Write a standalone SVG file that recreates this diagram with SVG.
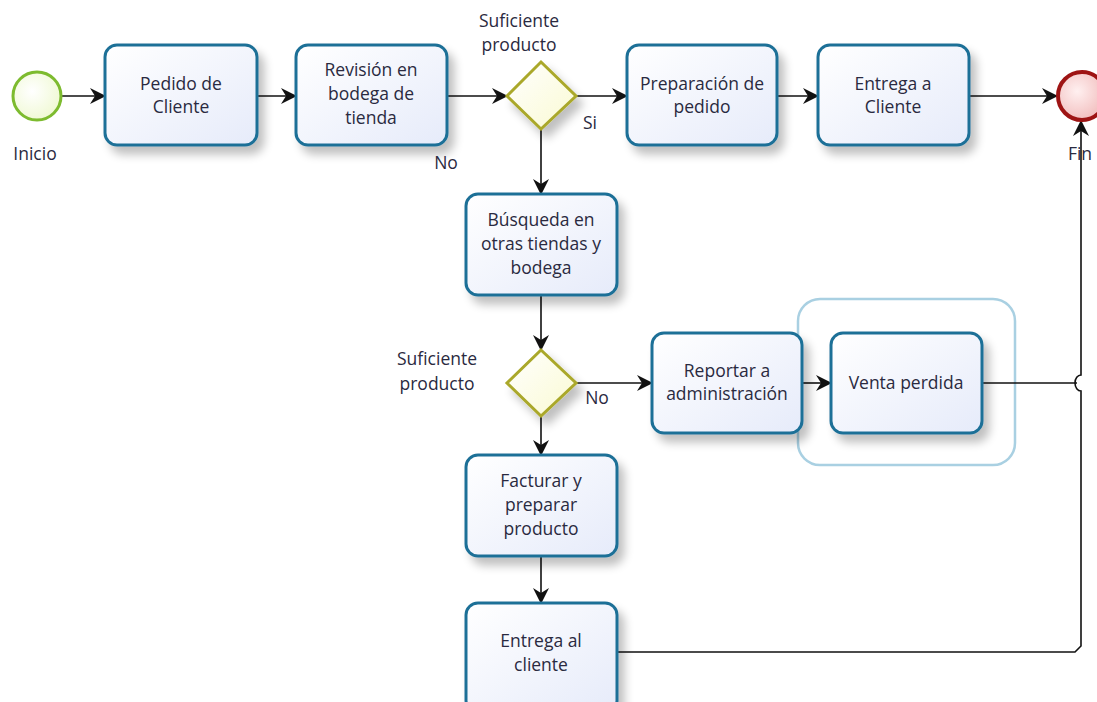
<svg xmlns="http://www.w3.org/2000/svg" width="1097" height="702" viewBox="0 0 1097 702">
<defs>
<linearGradient id="taskFill" x1="0" y1="0" x2="1" y2="1">
<stop offset="0" stop-color="#ffffff"/><stop offset="1" stop-color="#e6ebfa"/>
</linearGradient>
<linearGradient id="gwFill" x1="0" y1="0" x2="1" y2="1">
<stop offset="0" stop-color="#ffffff"/><stop offset="1" stop-color="#fafad2"/>
</linearGradient>
<radialGradient id="startFill" cx="0.4" cy="0.4" r="0.7">
<stop offset="0" stop-color="#ffffff"/><stop offset="1" stop-color="#eef8cf"/>
</radialGradient>
<radialGradient id="endFill" cx="0.4" cy="0.4" r="0.7">
<stop offset="0" stop-color="#fff0f0"/><stop offset="1" stop-color="#f0b8b8"/>
</radialGradient>
<filter id="shadow" x="-20%" y="-20%" width="150%" height="150%">
<feGaussianBlur in="SourceAlpha" stdDeviation="5"/>
<feOffset dx="6" dy="8" result="b"/>
<feComponentTransfer><feFuncA type="linear" slope="0.25"/></feComponentTransfer>
<feMerge><feMergeNode/><feMergeNode in="SourceGraphic"/></feMerge>
</filter>
<marker id="arrow" viewBox="0 0 16 16" refX="15" refY="8" markerWidth="16" markerHeight="16" markerUnits="userSpaceOnUse" orient="auto">
<path d="M0,0 L16,8 L0,16 L5,8 Z" fill="#111"/>
</marker>
</defs>
<style>
.task{fill:url(#taskFill);stroke:#1f6f97;stroke-width:3;filter:url(#shadow)}
.gw{fill:url(#gwFill);stroke:#aaa82a;stroke-width:3;filter:url(#shadow)}
.lbl{font-family:"Open Sans","Noto Sans",sans-serif;font-size:17.5px;fill:#2a2a40;text-anchor:middle}
.edge{fill:none;stroke:#111;stroke-width:1.6}
.edgeA{fill:none;stroke:#111;stroke-width:1.6;marker-end:url(#arrow)}
</style>
<rect width="1097" height="702" fill="#ffffff"/>

<g id="group-lost">
<rect x="798" y="299" width="217" height="166" rx="22" fill="none" stroke="#a9d0e2" stroke-width="2.5"/>
</g>

<g id="connectors">
<line class="edgeA" x1="62" y1="96" x2="105" y2="96"/>
<line class="edgeA" x1="257" y1="96" x2="296" y2="96"/>
<line class="edgeA" x1="447" y1="96" x2="507" y2="96"/>
<line class="edgeA" x1="576" y1="96" x2="627" y2="96"/>
<line class="edgeA" x1="777" y1="96" x2="818" y2="96"/>
<line class="edgeA" x1="969" y1="96" x2="1057" y2="96"/>
<line class="edgeA" x1="541" y1="129" x2="541" y2="194"/>
<line class="edgeA" x1="541" y1="295" x2="541" y2="350"/>
<line class="edgeA" x1="576" y1="383" x2="652" y2="383"/>
<line class="edgeA" x1="802" y1="383" x2="831" y2="383"/>
<line class="edgeA" x1="541" y1="416" x2="541" y2="455"/>
<line class="edgeA" x1="541" y1="556" x2="541" y2="603"/>
<line class="edge" x1="982" y1="383" x2="1077" y2="383"/>
<path class="edgeA" d="M617,652 L1075,652 L1081,646 L1081,391 A6,8 0 0 1 1081,375 L1081,121"/>
</g>

<g id="start">
<circle cx="37" cy="96" r="24" fill="url(#startFill)" stroke="#7dbb2f" stroke-width="3"/>
<text class="lbl" x="35" y="160">Inicio</text>
</g>

<g id="end">
<circle cx="1082" cy="96" r="24" fill="url(#endFill)" stroke="#9e1414" stroke-width="4"/>
<text class="lbl" x="1080" y="160">Fin</text>
</g>

<g id="pedido">
<rect class="task" x="105" y="45" width="152" height="100" rx="12"/>
<text class="lbl" x="181" y="90">Pedido de</text>
<text class="lbl" x="181" y="113">Cliente</text>
</g>

<g id="revision">
<rect class="task" x="296" y="45" width="151" height="100" rx="12"/>
<text class="lbl" x="371" y="76">Revisión en</text>
<text class="lbl" x="371" y="100">bodega de</text>
<text class="lbl" x="371" y="124">tienda</text>
</g>

<g id="gateway1">
<polygon class="gw" points="541,62 576,96 541,129 507,96"/>
<text class="lbl" x="519" y="27">Suficiente</text>
<text class="lbl" x="519" y="51">producto</text>
<text class="lbl" x="590" y="129">Si</text>
<text class="lbl" x="446" y="169">No</text>
</g>

<g id="preparacion">
<rect class="task" x="627" y="45" width="150" height="100" rx="12"/>
<text class="lbl" x="702" y="90">Preparación de</text>
<text class="lbl" x="702" y="113">pedido</text>
</g>

<g id="entrega1">
<rect class="task" x="818" y="45" width="151" height="100" rx="12"/>
<text class="lbl" x="893" y="90">Entrega a</text>
<text class="lbl" x="893" y="113">Cliente</text>
</g>

<g id="busqueda">
<rect class="task" x="466" y="194" width="151" height="101" rx="12"/>
<text class="lbl" x="541" y="226">Búsqueda en</text>
<text class="lbl" x="541" y="250">otras tiendas y</text>
<text class="lbl" x="541" y="274">bodega</text>
</g>

<g id="gateway2">
<polygon class="gw" points="541,350 576,383 541,416 507,383"/>
<text class="lbl" x="437" y="365">Suficiente</text>
<text class="lbl" x="437" y="390">producto</text>
<text class="lbl" x="597" y="404">No</text>
</g>

<g id="reportar">
<rect class="task" x="652" y="333" width="150" height="100" rx="12"/>
<text class="lbl" x="727" y="377">Reportar a</text>
<text class="lbl" x="727" y="400">administración</text>
</g>

<g id="venta">
<rect class="task" x="831" y="333" width="151" height="100" rx="12"/>
<text class="lbl" x="906" y="389">Venta perdida</text>
</g>

<g id="facturar">
<rect class="task" x="466" y="455" width="151" height="101" rx="12"/>
<text class="lbl" x="541" y="487">Facturar y</text>
<text class="lbl" x="541" y="511">preparar</text>
<text class="lbl" x="541" y="535">producto</text>
</g>

<g id="entrega2">
<rect class="task" x="466" y="603" width="151" height="110" rx="12"/>
<text class="lbl" x="541" y="647">Entrega al</text>
<text class="lbl" x="541" y="671">cliente</text>
</g>
</svg>
